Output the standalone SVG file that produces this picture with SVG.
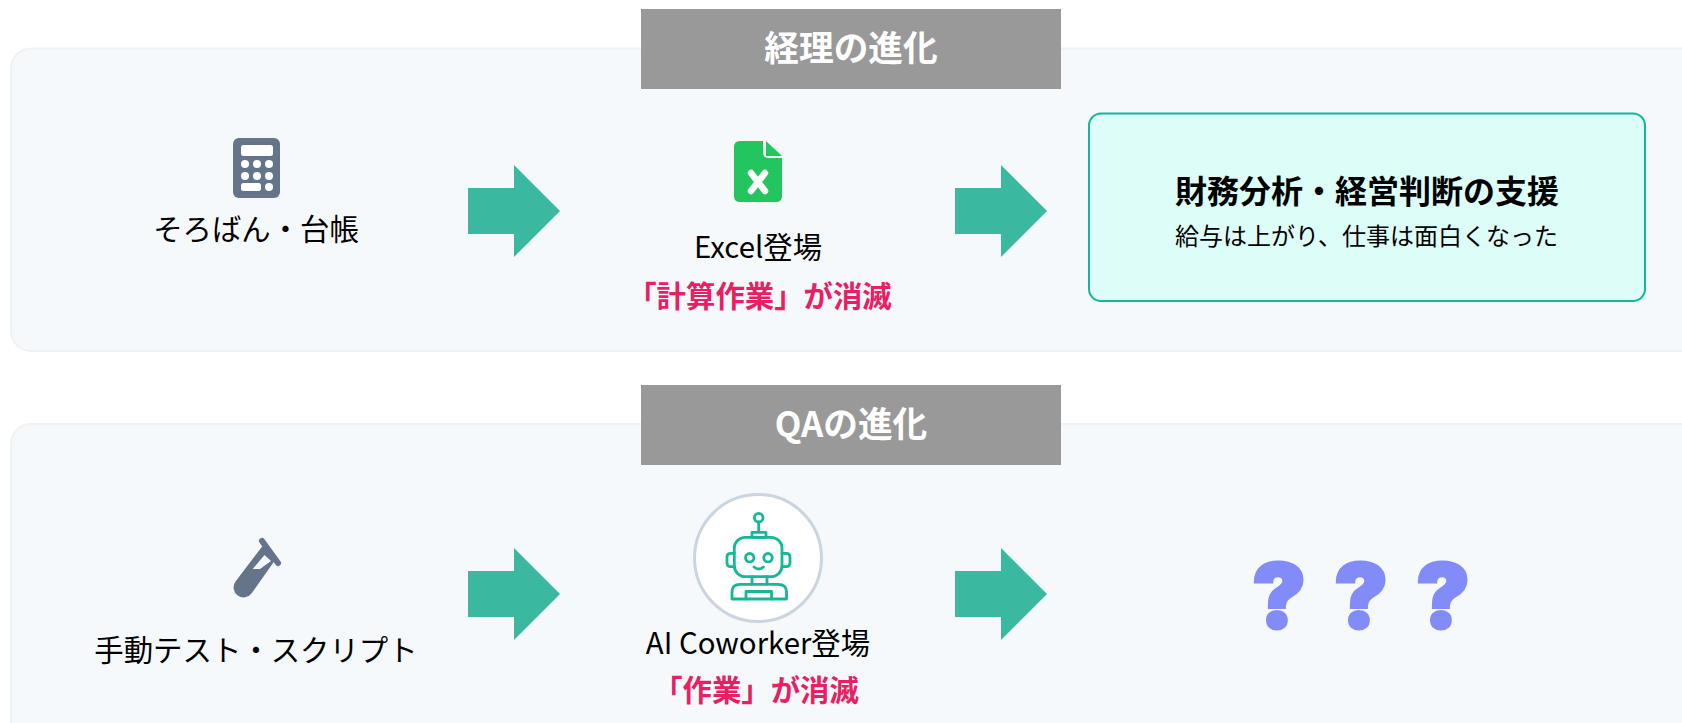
<svg xmlns="http://www.w3.org/2000/svg" width="1682" height="723" viewBox="0 0 1682 723">
<style>
text{font-family:"Noto Sans CJK JP","Noto Sans",sans-serif;text-anchor:middle;fill:#000}
.panel{fill:#f5f9fc;stroke:#f0f1f3;stroke-width:2}
.title{fill:#999}
.tt{font-size:34.7px;font-weight:700;fill:#fff}
.lab{font-size:29.4px}
.pink{font-size:29.4px;font-weight:700;fill:#e91e63}
.icon{fill:#64748b}
.arrow{fill:#3bb8a0}
.q{font-family:"Inter",sans-serif;font-size:90px;font-weight:900;fill:#818cf8;stroke:#818cf8;stroke-width:3}
.rb{fill:none;stroke:#14b897;stroke-width:2.8;stroke-linecap:round;stroke-linejoin:round}
</style>
<rect width="1682" height="723" fill="#fff"/>
<g id="panel-keiri"><rect class="panel" x="11" y="48.5" width="1690" height="302.5" rx="20"/></g>
<g id="panel-qa"><rect class="panel" x="11" y="424" width="1690" height="340" rx="20"/></g>
<g id="title-keiri"><rect class="title" x="641" y="9" width="420" height="80"/><text class="tt" x="851" y="61">経理の進化</text></g>
<g id="title-qa"><rect class="title" x="641" y="385" width="420" height="80"/><text class="tt" x="851" y="437">QAの進化</text></g>
<g id="node-soroban">
<rect class="icon" x="233" y="138" width="47" height="60" rx="6"/>
<g fill="#fff"><rect x="241" y="145" width="32" height="11" rx="2.5"/>
<circle cx="245" cy="164" r="4"/><circle cx="257" cy="164" r="4"/><circle cx="269" cy="164" r="4"/>
<circle cx="245" cy="176" r="4"/><circle cx="257" cy="176" r="4"/><circle cx="269" cy="176" r="4"/>
<rect x="241" y="183" width="20" height="8" rx="2.5"/><circle cx="269" cy="187" r="4"/></g>
<text class="lab" x="256" y="240">そろばん・台帳</text></g>
<g id="node-excel">
<path fill="#22c55e" d="M740 141H763V152Q763 158 769 158H782V196Q782 202 776 202H740Q734 202 734 196V147Q734 141 740 141Z"/>
<path fill="#22c55e" d="M766 141L782 156H766Z"/>
<path d="M751 173L765 191M765 173L751 191" stroke="#fff" stroke-width="6.5" stroke-linecap="round" fill="none"/>
<text class="lab" x="758" y="258">Excel登場</text>
<text class="pink" x="759.5" y="307">「計算作業」が消滅</text></g>
<g id="node-result">
<rect x="1089" y="113.5" width="556" height="187.5" rx="12" fill="#dcfdf8" stroke="#14b897" stroke-width="2"/>
<text x="1367" y="203" font-size="32" font-weight="700">財務分析・経営判断の支援</text>
<text x="1366.5" y="245" font-size="24">給与は上がり、仕事は面白くなった</text></g>
<g id="node-manual">
<path d="M262 541L278 563" stroke="#64748b" stroke-width="6" stroke-linecap="round" fill="none"/>
<path fill="#64748b" d="M264 544L275.5 559.5L251.7 593.3A10 10 0 0 1 235.5 581.5Z"/>
<path fill="#f5f9fc" d="M252.7 569L264.5 555L271 561L260 569Z"/>
<text class="lab" x="256" y="661">手動テスト・スクリプト</text></g>
<g id="node-ai">
<circle cx="758" cy="558" r="63.5" fill="#fff" stroke="#cbd5e1" stroke-width="3"/>
<g class="rb"><circle cx="758.7" cy="517.7" r="4.3"/><path d="M758.7 522V532"/><rect x="752" y="532.3" width="14" height="5"/><rect x="734.3" y="537.3" width="47.7" height="39.4" rx="11"/><path d="M734.3 553.3H731Q727 553.3 727 557V563Q727 566.7 731 566.7H734.3M782 553.3H786Q790 553.3 790 557V563Q790 566.7 786 566.7H782"/><circle cx="749.7" cy="557.7" r="4.2"/><circle cx="768" cy="557.7" r="4.2"/><path d="M754 567Q758.7 571 763.3 567"/><path d="M752 576.7V584.3M767 576.7V584.3"/><path d="M732 599V592Q732 584.3 740 584.3H778Q786.5 584.3 786.5 592V599Z"/><path d="M746 599V591.5H771.5V599"/></g>
<text class="lab" x="758" y="654">AI Coworker登場</text>
<text class="pink" x="756" y="701">「作業」が消滅</text></g>
<g id="node-unknown"><text class="q" x="1279" y="628">?</text><text class="q" x="1361" y="628">?</text><text class="q" x="1443" y="628">?</text></g>
<g id="connectors">
<path class="arrow" d="M468 188H514V165L560 211L514 257V234H468Z"/>
<path class="arrow" d="M955 188H1001V165L1047 211L1001 257V234H955Z"/>
<path class="arrow" d="M468 571H514V548L560 594L514 640V617H468Z"/>
<path class="arrow" d="M955 571H1001V548L1047 594L1001 640V617H955Z"/>
</g>
</svg>
